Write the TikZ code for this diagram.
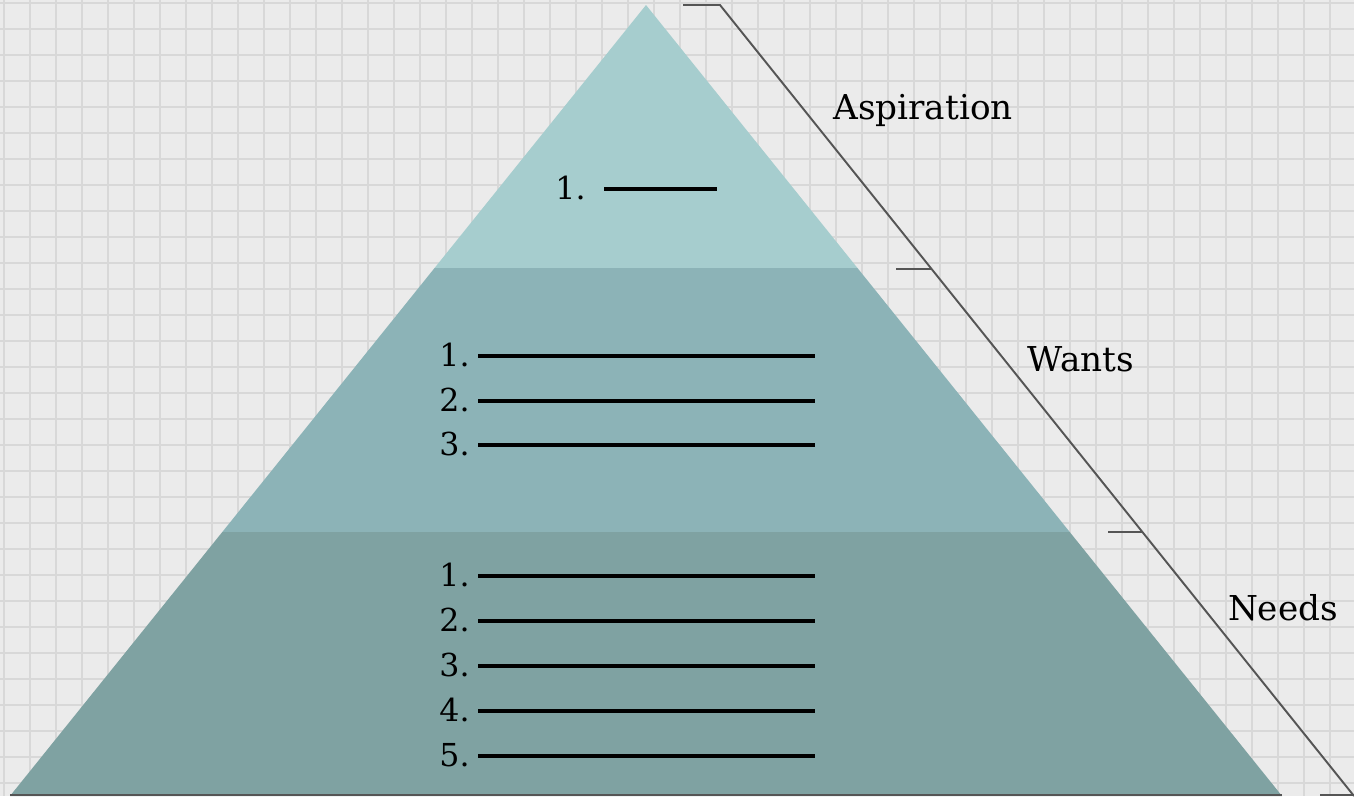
\documentclass[tikz,border=0pt]{standalone}
\usepackage{fontspec}
\setmainfont{DejaVu Serif}
\definecolor{paper}{HTML}{EBEBEB}
\definecolor{gridgray}{HTML}{D8D8D8}
\definecolor{tiertop}{HTML}{A6CDCE}
\definecolor{tiermid}{HTML}{8CB3B7}
\definecolor{tierlow}{HTML}{7FA2A2}
\definecolor{bracketgray}{HTML}{555555}
\tikzset{
    gridline/.style = {gridgray, line width = 1.1pt},
    bracket/.style = {bracketgray, line width = 1.1pt},
    tiertext/.style = {font = \fontsize{19.5}{21}\selectfont, text = black, inner sep = 0pt},
    itemtext/.style = {font = \fontsize{18}{20}\selectfont, text = black, inner sep = 0pt},
    blank/.style = {black, line width = 1.8pt}
}
\begin{document}
\begin{tikzpicture}[x = 0.02cm, y = -0.02cm]
        \pgfmathsetmacro{\s}{0.804};
        \useasboundingbox (0, 0) rectangle (1354, 796);
        \fill [paper] (0, 0) rectangle (1354, 796);
        % squared paper
        \foreach \x in {4, 30, ..., 1354} \draw [gridline] (\x, 0) -- (\x, 796);
        \foreach \y in {3, 29, ..., 796} \draw [gridline] (0, \y) -- (1354, \y);
        % pyramid
        \coordinate (apex) at (646, 5);
        \coordinate (al) at ({646 - \s*263}, 268);
        \coordinate (ar) at ({646 + \s*263}, 268);
        \coordinate (wl) at ({646 - \s*527}, 532);
        \coordinate (wr) at ({646 + \s*527}, 532);
        \coordinate (nl) at (10, 796);
        \coordinate (nr) at (1282, 796);
        \fill [tiertop] (apex) -- (al) -- (ar) -- cycle;
        \fill [tiermid] (al) -- (wl) -- (wr) -- (ar) -- cycle;
        \fill [tierlow] (wl) -- (nl) -- (nr) -- (wr) -- cycle;
        \draw [bracketgray, line width = 1pt] (10, 795) -- (1282, 795);
        % bracket on the right
        \draw [bracket] (683, 5) -- (720, 5) -- (1354, 796);
        \draw [bracket] (896, 269) -- (932, 269);
        \draw [bracket] (1108, 532) -- (1143, 532);
        \draw [bracket] (1320, 795) -- (1354, 795);
        \node [tiertext] (aspiration) at (923, 110) {Aspiration};
        \node [tiertext] (wants) at (1081, 359) {Wants};
        \node [tiertext] (needs) at (1283, 608) {Needs};
        % blanks
        \node [itemtext, anchor = base east] (a1) at (586, 199) {1.};
        \draw [blank] (604, 189) -- (717, 189);
        \foreach \i/\y in {1/356, 2/401, 3/445} {
            \node [itemtext, anchor = base east] (w\i) at (470, \y + 10) {\i.};
            \draw [blank] (478, \y) -- (815, \y);
        }
        \foreach \i/\y in {1/576, 2/621, 3/666, 4/711, 5/756} {
            \node [itemtext, anchor = base east] (n\i) at (470, \y + 10) {\i.};
            \draw [blank] (478, \y) -- (815, \y);
        }
    \end{tikzpicture}
\end{document}
